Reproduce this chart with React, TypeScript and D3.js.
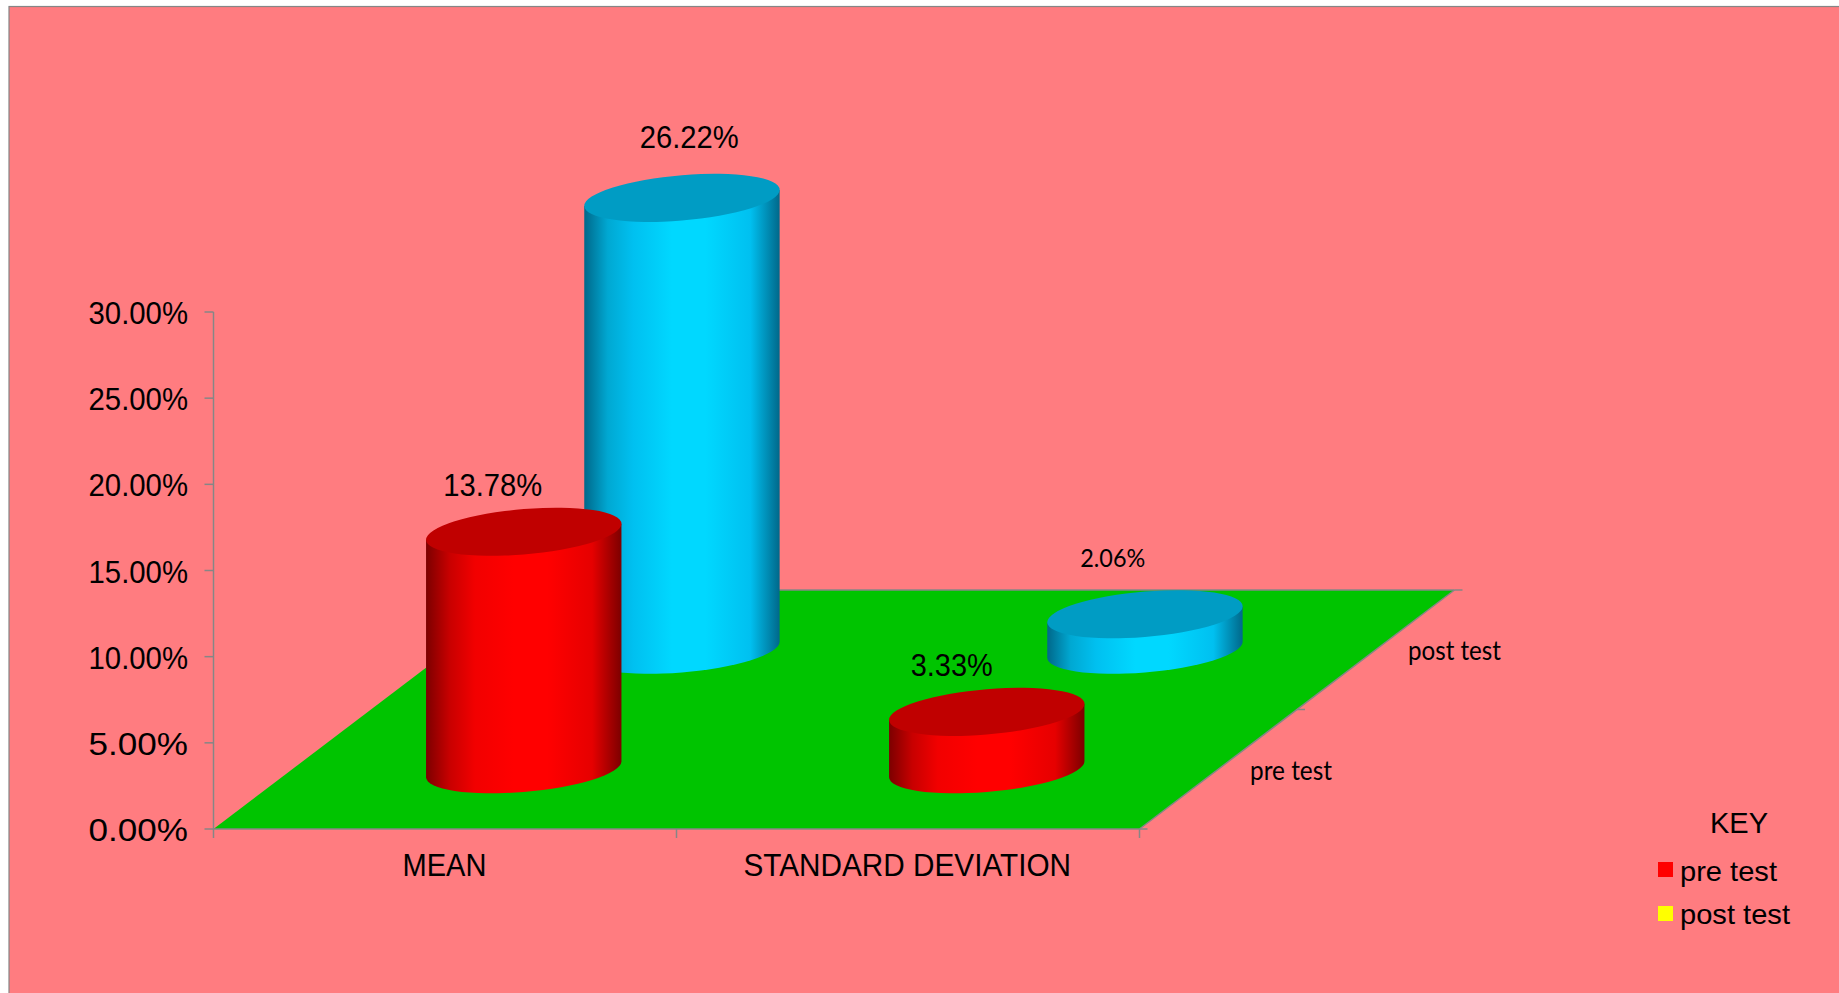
import React from "react";
import * as d3 from "d3";

// Chart values, in percent
const categories = ["MEAN", "STANDARD DEVIATION"];
const seriesNames = ["pre test", "post test"];
const preTest = [13.78, 3.33];
const postTest = [26.22, 2.06];
const valueLabels = [["13.78%", "3.33%"], ["26.22%", "2.06%"]];
const yTicks = [0, 5, 10, 15, 20, 25, 30];

const WIDTH = 1839;
const HEIGHT = 993;
const ARIAL = "'Liberation Sans', Arial, sans-serif";
const CALIBRI = "Lato, 'Noto Sans', sans-serif";
const GREY = "#868686";
const LABEL_SIZE = 31;

// Oblique projection of the floor: front edge runs along x, depth recedes up and to the right
const x = d3.scaleBand<string>().domain(categories).range([213.5, 1139.5]);
const y = d3.scaleLinear().domain([0, 30]).range([829, 312]);
const depth = d3.scaleBand<string>().domain(seriesNames).range([0, 1]);
const DEPTH_DX = 315;
const DEPTH_DY = -239;

// Tilted ellipse of a cylinder cap
const RX = 98;
const RY = 22.6;
const TILT = -4.95;
const HALF_W = 97.7;
const EDGE_DY = 8;
const REAR_SHIFT = 0.7;

const capPath = (cx: number, cy: number) =>
  `M${cx - HALF_W},${cy + EDGE_DY}` +
  `A${RX},${RY} ${TILT} 1 1 ${cx + HALF_W},${cy - EDGE_DY}` +
  `A${RX},${RY} ${TILT} 1 1 ${cx - HALF_W},${cy + EDGE_DY}Z`;

const bodyPath = (cx: number, top: number, base: number) =>
  `M${cx - HALF_W},${top + EDGE_DY}` +
  `L${cx - HALF_W},${base + EDGE_DY}` +
  `A${RX},${RY} ${TILT} 0 0 ${cx + HALF_W},${base - EDGE_DY}` +
  `L${cx + HALF_W},${top - EDGE_DY}Z`;

const floorPoint = (fx: number, d: number): [number, number] => [
  fx + d * DEPTH_DX,
  y(0) + d * DEPTH_DY,
];

const bandLeft = x(categories[0])!;
const bandRight = x(categories[1])! + x.bandwidth();

const floor = d3.line()([
  floorPoint(bandLeft, 0),
  floorPoint(bandRight, 0),
  floorPoint(bandRight, 1),
  floorPoint(bandLeft, 1),
])! + "Z";

// Where each value label sits relative to its cylinder's cap centre
const labelShift = [
  [{ dx: -31, dy: -36, w: 99, size: LABEL_SIZE, font: ARIAL }, { dx: -35, dy: -36, w: 82, size: LABEL_SIZE, font: ARIAL }],
  [{ dx: 8, dy: -50, w: 99, size: LABEL_SIZE, font: ARIAL }, { dx: -31.5, dy: -47, w: 65, size: 25, font: CALIBRI }],
];

const palettes = [
  { id: "bodyPre", top: "#c00000", stops: ["#7c0000", "#c80000", "#f20000", "#ff0000", "#ff0000", "#e60000", "#7c0000"] },
  { id: "bodyPost", top: "#009cc4", stops: ["#00688a", "#00a8d2", "#00c0f0", "#00d8ff", "#00d8ff", "#00c0f0", "#00688a"] },
];
const stopOffsets = ["0%", "12%", "25%", "45%", "62%", "85%", "100%"];

const App = () => {
  const seriesValues = [preTest, postTest];
  // Rear series first so the nearer cylinders overlap it
  const order = [1, 0];

  return (
    <svg
      width={WIDTH}
      height={HEIGHT}
      viewBox={`0 0 ${WIDTH} ${HEIGHT}`}
      style={{ position: "absolute", left: 0, top: 0, display: "block" }}
    >
      <defs>
        {palettes.map((p) => (
          <linearGradient key={p.id} id={p.id} x1="0" x2="1" y1="0" y2="0">
            {p.stops.map((c, i) => (
              <stop key={i} offset={stopOffsets[i]} stopColor={c} />
            ))}
          </linearGradient>
        ))}
      </defs>

      <rect x={0} y={0} width={WIDTH} height={HEIGHT} fill="#ffffff" />
      <rect x={9} y={6.5} width={WIDTH} height={HEIGHT} fill="#ff7c80" stroke={GREY} strokeWidth={1.2} />

      {/* Floor and its edges */}
      <path d={floor} fill="#00c400" />
      <g stroke={GREY} fill="none" strokeWidth={1.5}>
        <line x1={bandLeft} x2={bandRight} y1={y(0)} y2={y(0)} />
        <line x1={bandRight} y1={y(0)} x2={floorPoint(bandRight, 1)[0]} y2={floorPoint(bandRight, 1)[1]} />
        <line x1={floorPoint(bandLeft, 1)[0]} x2={floorPoint(bandRight, 1)[0]} y1={y(0) + DEPTH_DY} y2={y(0) + DEPTH_DY} />
        <line x1={bandLeft} x2={bandLeft} y1={y(30)} y2={y(0)} />
        {yTicks.map((t) => (
          <line key={t} x1={bandLeft - 9} x2={bandLeft} y1={y(t)} y2={y(t)} />
        ))}
        {[bandLeft, x(categories[1])!, bandRight].map((tx) => (
          <line key={tx} x1={tx} x2={tx} y1={y(0)} y2={y(0) + 9} />
        ))}
        {[0, 0.5, 1].map((d) => {
          const [px, py] = floorPoint(bandRight, d);
          return <line key={d} x1={px} x2={px + 8} y1={py} y2={py} />;
        })}
      </g>

      {/* Value axis labels */}
      {yTicks.map((t) => (
        <text
          key={t}
          x={88.5}
          y={y(t) + 12}
          fontFamily={ARIAL}
          fontSize={LABEL_SIZE}
          textLength={99.5}
          lengthAdjust="spacingAndGlyphs"
          fill="#000"
        >
          {`${d3.format(".2f")(t)}%`}
        </text>
      ))}

      {/* Category labels */}
      <text x={402.5} y={875.5} fontFamily={ARIAL} fontSize={LABEL_SIZE} textLength={84} lengthAdjust="spacingAndGlyphs">
        {categories[0]}
      </text>
      <text x={743.5} y={875.5} fontFamily={ARIAL} fontSize={LABEL_SIZE} textLength={327.5} lengthAdjust="spacingAndGlyphs">
        {categories[1]}
      </text>

      {/* Depth axis labels */}
      <text x={1250} y={779.5} fontFamily={CALIBRI} fontSize={26} textLength={82} lengthAdjust="spacingAndGlyphs">
        {seriesNames[0]}
      </text>
      <text x={1408} y={659.5} fontFamily={CALIBRI} fontSize={26} textLength={93} lengthAdjust="spacingAndGlyphs">
        {seriesNames[1]}
      </text>

      {/* Cylinders */}
      {order.map((s) =>
        categories.map((c, i) => {
          const d = depth(seriesNames[s])! + depth.bandwidth() / 2;
          const [fx, base] = floorPoint(x(c)! + x.bandwidth() / 2, d);
          const cx = fx + s * REAR_SHIFT;
          const top = base - (y(0) - y(seriesValues[s][i]));
          return (
            <g key={`${s}-${c}`}>
              <path d={bodyPath(cx, top, base)} fill={`url(#${palettes[s].id})`} />
              <path d={capPath(cx, top)} fill={palettes[s].top} />
            </g>
          );
        })
      )}

      {/* Value labels */}
      {order.map((s) =>
        categories.map((c, i) => {
          const d = depth(seriesNames[s])! + depth.bandwidth() / 2;
          const [cx, base] = floorPoint(x(c)! + x.bandwidth() / 2, d);
          const top = base - (y(0) - y(seriesValues[s][i]));
          const l = labelShift[s][i];
          return (
            <text
              key={`${s}-${c}-label`}
              x={cx + l.dx}
              y={top + l.dy}
              textAnchor="middle"
              fontFamily={l.font}
              fontSize={l.size}
              textLength={l.w}
              lengthAdjust="spacingAndGlyphs"
            >
              {valueLabels[s][i]}
            </text>
          );
        })
      )}

      {/* Legend */}
      <text x={1739} y={833} textAnchor="middle" fontFamily={ARIAL} fontSize={29}>KEY</text>
      <rect x={1658} y={862} width={15} height={15} fill="#ff0000" />
      <text x={1680} y={881} fontFamily={ARIAL} fontSize={28} textLength={97} lengthAdjust="spacingAndGlyphs">
        {seriesNames[0]}
      </text>
      <rect x={1658} y={906} width={15} height={15} fill="#ffff00" />
      <text x={1680} y={924} fontFamily={ARIAL} fontSize={28} textLength={110} lengthAdjust="spacingAndGlyphs">
        {seriesNames[1]}
      </text>
    </svg>
  );
};

export default App;
